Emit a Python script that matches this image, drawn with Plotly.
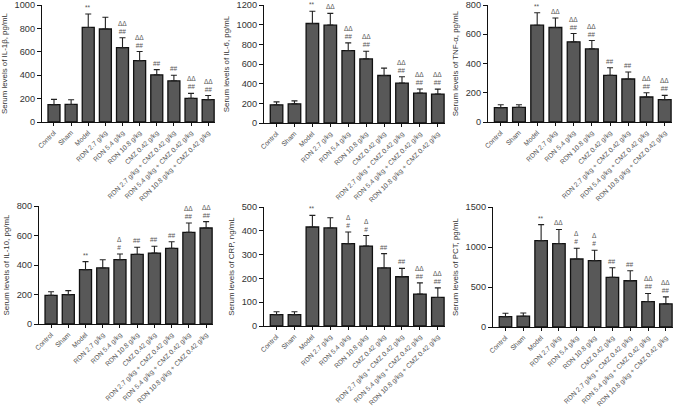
import plotly.graph_objects as go

categories = ["Control", "Sham", "Model", "RDN 2.7 g/kg", "RDN 5.4 g/kg", "RDN 10.8 g/kg",
              "CMZ 0.42 g/kg", "RDN 2.7 g/kg + CMZ 0.42 g/kg",
              "RDN 5.4 g/kg + CMZ 0.42 g/kg", "RDN 10.8 g/kg + CMZ 0.42 g/kg"]

il1b = [148, 150, 808, 795, 635, 525, 403, 352, 202, 191]
il1b_err = [45, 40, 115, 100, 85, 77, 45, 47, 43, 35]
il6 = [185, 195, 1012, 995, 737, 652, 483, 406, 304, 294]
il6_err = [30, 30, 125, 120, 78, 78, 75, 64, 42, 50]
tnf = [98, 100, 662, 646, 548, 500, 319, 294, 171, 153]
tnf_err = [20, 18, 85, 65, 57, 57, 52, 48, 29, 29]
il10 = [194, 199, 368, 380, 436, 472, 481, 513, 621, 651]
il10_err = [25, 27, 55, 56, 39, 48, 46, 45, 64, 43]
crp = [48, 48, 416, 412, 346, 336, 244, 207, 134, 120]
crp_err = [12, 12, 49, 43, 49, 44, 60, 35, 47, 40]
pct = [130, 135, 1080, 1043, 850, 830, 620, 578, 318, 289]
pct_err = [42, 40, 200, 176, 135, 130, 121, 126, 101, 88]

ann_il1b = ["", "", "**", "", "ΔΔ<br>##", "ΔΔ<br>##", "##", "##", "ΔΔ<br>##", "ΔΔ<br>##"]
ann_il6 = ["", "", "**", "ΔΔ", "ΔΔ<br>##", "ΔΔ<br>##", "", "ΔΔ<br>##", "ΔΔ<br>##", "ΔΔ<br>##"]
ann_tnf = ["", "", "**", "ΔΔ", "ΔΔ<br>##", "ΔΔ<br>##", "##", "##", "ΔΔ<br>##", "ΔΔ<br>##"]
ann_il10 = ["", "", "**", "", "Δ<br>#", "##", "##", "##", "ΔΔ<br>##", "ΔΔ<br>##"]
ann_crp = ["", "", "**", "", "Δ<br>#", "Δ<br>#", "##", "##", "ΔΔ<br>##", "ΔΔ<br>##"]
ann_pct = ["", "", "**", "ΔΔ", "Δ<br>#", "Δ<br>#", "##", "##", "ΔΔ<br>##", "ΔΔ<br>##"]

titles = ["Serum levels of IL-1β, pg/mL", "Serum levels of IL-6, pg/mL",
          "Serum levels of TNF-α, pg/mL", "Serum levels of IL-10, pg/mL",
          "Serum levels of CRP, ng/mL", "Serum levels of PCT, pg/mL"]
y_max = [1000, 1200, 800, 800, 500, 1500]
y_step = [200, 200, 200, 200, 100, 500]

W, H = 674, 408
# panel boxes in pixels: (left, right, top, bottom)
boxes = [(42, 215, 5, 122), (264, 445, 5, 123), (488, 672, 5, 122),
         (39, 213, 206, 324), (264, 445, 207, 326), (493, 673, 207, 327)]

series = [(il1b, il1b_err, ann_il1b), (il6, il6_err, ann_il6), (tnf, tnf_err, ann_tnf),
          (il10, il10_err, ann_il10), (crp, crp_err, ann_crp), (pct, pct_err, ann_pct)]

fig = go.Figure()
font = "Liberation Sans, Arial, sans-serif"
xs = list(range(len(categories)))
annotations = []
for i, ((vals, errs, anns), box) in enumerate(zip(series, boxes)):
    n = "" if i == 0 else str(i + 1)
    xa, ya = "x" + n, "y" + n
    fig.add_trace(go.Bar(
        x=xs, y=vals, xaxis=xa, yaxis=ya, width=0.7,
        marker=dict(color="#585858", line=dict(color="#111111", width=1.3)),
        error_y=dict(type="data", array=errs, arrayminus=[0] * len(errs), symmetric=False,
                     color="#222222", thickness=1.1, width=3),
        showlegend=False, hoverinfo="skip",
    ))
    for k, (v, e, t) in enumerate(zip(vals, errs, anns)):
        if t:
            annotations.append(dict(x=k, y=v + e, xref=xa, yref=ya, text=t, showarrow=False,
                                    yanchor="bottom", yshift=1,
                                    font=dict(size=6.5, color="#555555", family=font)))
    l, r, t_, b = box
    fig.layout["xaxis" + n] = dict(
        domain=[l / W, r / W], anchor=ya, range=[-0.7, 9.4], automargin=False,
        tickmode="array", tickvals=xs, ticktext=categories, tickangle=-45,
        tickfont=dict(size=6.8, color="#555555", family=font), ticklabeloverflow="allow",
        showline=True, linecolor="#111111", linewidth=1.3,
        ticks="outside", ticklen=3, tickcolor="#111111", tickwidth=1,
        showgrid=False, zeroline=False, fixedrange=True,
    )
    fig.layout["yaxis" + n] = dict(
        domain=[1 - b / H, 1 - t_ / H], anchor=xa, range=[0, y_max[i]], automargin=False,
        tickmode="linear", tick0=0, dtick=y_step[i], ticklabeloverflow="allow",
        tickfont=dict(size=9.2, color="#333333", family=font),
        title=dict(text=titles[i], font=dict(size=7.9, color="#333333", family=font), standoff=5),
        showline=True, linecolor="#111111", linewidth=1.3,
        ticks="outside", ticklen=4, tickcolor="#111111", tickwidth=1,
        showgrid=False, zeroline=False, fixedrange=True,
    )

fig.update_layout(
    width=W, height=H, margin=dict(l=0, r=0, t=0, b=0),
    paper_bgcolor="white", plot_bgcolor="white",
    annotations=annotations, bargap=0.3,
)
fig.write_html("out.html", config={"displayModeBar": False},
               post_script="document.body.style.margin='0';document.body.style.padding='0';")
